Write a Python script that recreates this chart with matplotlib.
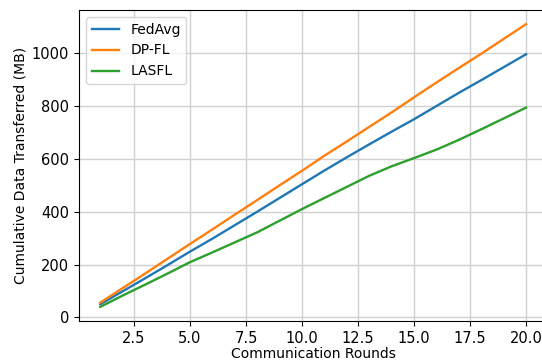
import numpy as np
import matplotlib
matplotlib.use('Agg')
import matplotlib.pyplot as plt

rounds = np.arange(1, 21)
fedavg = [50, 99, 148, 198, 249, 298, 349, 400, 452, 504,
          556, 606, 655, 703, 750, 800, 850, 898, 947, 996]
dpfl = [56, 111, 166, 222, 278, 333, 389, 444, 500, 555,
        612, 666, 721, 776, 833, 889, 944, 998, 1054, 1110]
lasfl = [40, 83, 124, 166, 209, 246, 284, 322, 366, 410,
         452, 494, 536, 572, 603, 635, 672, 712, 753, 794]

plt.rcParams['font.size'] = 10

fig = plt.figure(figsize=(5.42, 3.62), dpi=100)
ax = fig.add_axes([0.1458, 0.1133, 0.864, 0.859])

ax.plot(rounds, fedavg, label='FedAvg', linewidth=1.7)
ax.plot(rounds, dpfl, label='DP-FL', linewidth=1.7)
ax.plot(rounds, lasfl, label='LASFL', linewidth=1.7)

ax.tick_params(labelsize=10.5)
ax.set_xlabel('Communication Rounds', labelpad=1)
ax.set_ylabel('Cumulative Data Transferred (MB)', labelpad=3)
ax.grid(True, color='#d0d0d0', linewidth=1.0)
ax.spines['right'].set_visible(False)
ax.legend(loc='upper left')

fig.savefig('out.png', dpi=100)
